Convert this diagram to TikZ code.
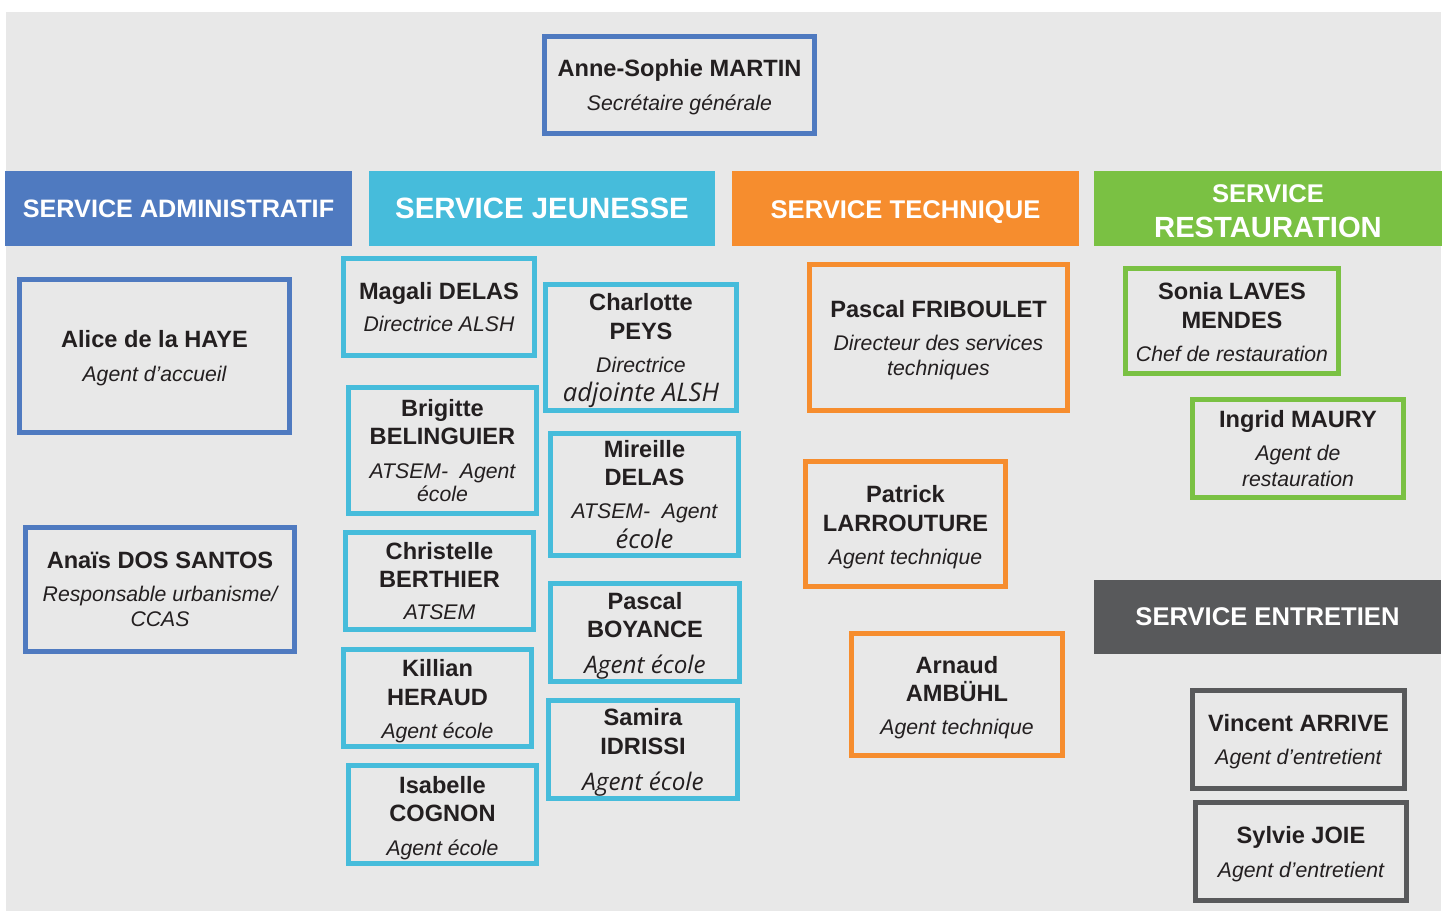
\documentclass[tikz,border=0pt]{standalone}
\usepackage{fontspec}
\setmainfont{Liberation Sans}
\newfontfamily\osans{Open Sans}

\definecolor{fond}{HTML}{E8E8E8}
\definecolor{bleu}{HTML}{4F7AC0}
\definecolor{turq}{HTML}{46BCDB}
\definecolor{orng}{HTML}{F68D2E}
\definecolor{vert}{HTML}{7AC143}
\definecolor{gris}{HTML}{58595B}
\definecolor{encre}{HTML}{231F20}

\newcommand\nm[1]{{\bfseries\fontsize{11.8}{14.25}\selectfont #1}}
\newcommand\fn[1]{{\itshape\fontsize{10.6}{14.25}\selectfont #1}}
\newcommand\fo[2][12.1]{{\osans\itshape\fontsize{#1}{14.25}\selectfont #2}}
% haut de ligne (decale le texte vers le bas)
\newcommand\hd[1][11.5pt]{\rule{0pt}{#1}}

\begin{document}
\begin{tikzpicture}[x=0.5pt, y=-0.5pt,
  perso/.style={draw, line width=2.5pt, inner sep=0pt, align=center,
    text=encre, font=\fontsize{11.8}{14.25}\selectfont},
  padmin/.style={perso, draw=bleu},
  pjeun/.style={perso, draw=turq},
  ptech/.style={perso, draw=orng},
  presto/.style={perso, draw=vert},
  pentr/.style={perso, draw=gris},
  service/.style={inner sep=0pt, minimum width=173.5pt, minimum height=37.5pt,
    text=white, align=center, font=\bfseries\fontsize{12.6}{15}\selectfont}]

\useasboundingbox ( 0, 0 ) rectangle ( 1448, 911 );
\fill[fond] ( 6, 12 ) rectangle ( 1441, 911 );

% Bandeaux
\node[service, fill=bleu] (sadmin) at ( 178.5, 208.5 ) {SERVICE ADMINISTRATIF};
\node[service, fill=turq, minimum width=173pt, font=\bfseries\fontsize{14.7}{15}\selectfont] (sjeun) at ( 542, 208.5 ) {SERVICE JEUNESSE};
\node[service, fill=orng, text depth=0pt, font=\bfseries\fontsize{12.8}{15}\selectfont] (stech) at ( 905.5, 208.5 ) {\hd[10.2pt]SERVICE TECHNIQUE};
\node[service, fill=vert, minimum width=174pt, font=\bfseries\fontsize{12.8}{17.5}\selectfont] (sresto) at ( 1268, 208.5 ) {\hd[11.2pt]SERVICE\\{\fontsize{14.6}{17.5}\selectfont RESTAURATION}};
\node[service, fill=gris, minimum height=37pt, font=\bfseries\fontsize{12.8}{15}\selectfont] (sentr) at ( 1267.5, 617 ) {SERVICE ENTRETIEN};

% Direction
\node[padmin, minimum width=135pt, minimum height=48.5pt] (martin) at ( 679.5, 85 ) {\hd[10.5pt]\nm{Anne-Sophie MARTIN}\\[2.9pt]\fn{Secrétaire générale}};

% Administratif
\node[padmin, minimum width=135pt, minimum height=76.5pt] (haye) at ( 154.5, 356 ) {\hd[10.6pt]\nm{Alice de la HAYE}\\[2.5pt]\fn{Agent d’accueil}};
\node[padmin, minimum width=134.5pt, minimum height=62pt] (santos) at ( 160, 589.5 ) {\nm{Anaïs DOS SANTOS}\\[2pt]\fn{Responsable urbanisme/}\\[-1.75pt]\fn{CCAS}};

% Jeunesse (g/d)
\node[pjeun, minimum width=95.5pt, minimum height=48.5pt] (magali) at ( 439, 307 ) {\nm{Magali DELAS}\\[2pt]\fn{Directrice ALSH}};
\node[pjeun, minimum width=95.5pt, minimum height=63pt] (peys) at ( 641, 347.5 ) {\hd\nm{Charlotte}\\\nm{PEYS}\\[2.4pt]\fn{Directrice}\\[0.25pt]\fo[12.8]{adjointe ALSH}};
\node[pjeun, minimum width=94pt, minimum height=63pt] (belinguier) at ( 442.5, 450.5 ) {\nm{Brigitte}\\\nm{BELINGUIER}\\[2.75pt]\fn{ATSEM-~ Agent}\\[-2.9pt]\fn{école}};
\node[pjeun, minimum width=94pt, minimum height=61pt] (mireille) at ( 644.5, 494.5 ) {\nm{Mireille}\\\nm{DELAS}\\[2.4pt]\fn{ATSEM-~ Agent}\\[0.6pt]\fo[12.8]{école}};
\node[pjeun, minimum width=94pt, minimum height=48.5pt] (berthier) at ( 439.5, 581 ) {\nm{Christelle}\\\nm{BERTHIER}\\[1.9pt]\fn{ATSEM}};
\node[pjeun, minimum width=94.5pt, minimum height=49pt] (boyance) at ( 645, 632.5 ) {\hd[12pt]\nm{Pascal}\\[-0.55pt]\nm{BOYANCE}\\[4pt]\fo{Agent école}};
\node[pjeun, minimum width=94pt, minimum height=48.5pt] (heraud) at ( 437.5, 698 ) {\hd\nm{Killian}\\\nm{HERAUD}\\[2.25pt]\fn{Agent école}};
\node[pjeun, minimum width=94.5pt, minimum height=49pt] (idrissi) at ( 643, 749.5 ) {\hd\nm{Samira}\\[0.25pt]\nm{IDRISSI}\\[4pt]\fo{Agent école}};
\node[pjeun, minimum width=94pt, minimum height=49pt] (cognon) at ( 442.5, 814.5 ) {\hd[11.8pt]\nm{Isabelle}\\\nm{COGNON}\\[2.4pt]\fn{Agent école}};

% Technique
\node[ptech, minimum width=129pt, minimum height=73pt] (friboulet) at ( 938.5, 337.5 ) {\hd\nm{Pascal FRIBOULET}\\[2.2pt]\fn{Directeur des services}\\[-1.75pt]\fn{techniques}};
\node[ptech, minimum width=100pt, minimum height=62.5pt] (larrouture) at ( 905.5, 524 ) {\hd\nm{Patrick}\\[0.4pt]\nm{LARROUTURE}\\[1.9pt]\fn{Agent technique}};
\node[ptech, minimum width=105.5pt, minimum height=61pt] (ambuhl) at ( 957, 694.5 ) {\hd\nm{Arnaud}\\[-0.4pt]\nm{AMBÜHL}\\[2.4pt]\fn{Agent technique}};

% Restauration
\node[presto, minimum width=106.5pt, minimum height=52.5pt] (mendes) at ( 1232, 321 ) {\hd[9.6pt]\nm{Sonia LAVES}\\[0.4pt]\nm{MENDES}\\[2.3pt]\fn{Chef de restauration}};
\node[presto, minimum width=105.5pt, minimum height=49pt] (maury) at ( 1298, 448.5 ) {\nm{Ingrid MAURY}\\[2.2pt]\fn{Agent de}\\[-1.25pt]\fn{restauration}};

% Entretien
\node[pentr, minimum width=106pt, minimum height=49pt] (arrive) at ( 1298.5, 739.5 ) {\hd[10.6pt]\nm{Vincent ARRIVE}\\[2.6pt]\fn{Agent d’entretient}};
\node[pentr, minimum width=105.5pt, minimum height=49pt] (joie) at ( 1301, 851.5 ) {\hd\nm{Sylvie JOIE}\\[2.75pt]\fn{Agent d’entretient}};

\end{tikzpicture}
\end{document}
